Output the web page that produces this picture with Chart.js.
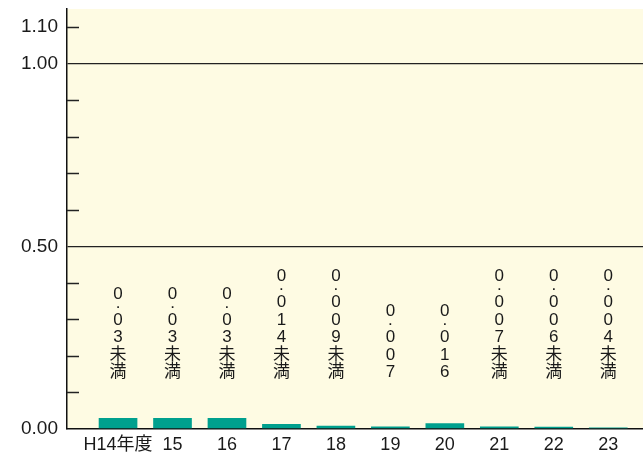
<!DOCTYPE html>
<html>
<head>
<meta charset="utf-8">
<script src="https://cdn.jsdelivr.net/npm/chart.js@4/dist/chart.umd.min.js"></script>
<style>
  body { margin: 0; background: #fff; }
</style>
</head>
<body>
<canvas id="chart" width="643" height="452"></canvas>
<script>
// data
const categories = ['H14年度', '15', '16', '17', '18', '19', '20', '21', '22', '23'];
const values = [0.03, 0.03, 0.03, 0.014, 0.009, 0.007, 0.016, 0.007, 0.006, 0.004];
const valueLabels = ['0.03未満', '0.03未満', '0.03未満', '0.014未満', '0.009未満', '0.007', '0.016', '0.007未満', '0.006未満', '0.004未満'];
const yTicks = [0, 0.1, 0.2, 0.3, 0.4, 0.5, 0.6, 0.7, 0.8, 0.9, 1.0, 1.1];
const yLabelled = [0, 0.5, 1.0, 1.1];
const yGridLines = [0.5, 1.0];
const labelBase = 0.142;

const FONT = '"Liberation Sans", "Noto Sans CJK JP", sans-serif';
const near = (list, v) => list.some(x => Math.abs(x - v) < 1e-6);

// cream plot background
const bgPlugin = {
    id: 'bg',
    beforeDraw(chart) {
        const a = chart.chartArea;
        const c = chart.ctx;
        c.save();
        c.fillStyle = '#fefbe3';
        c.fillRect(a.left, a.top, a.right - a.left, a.bottom - a.top);
        c.restore();
    }
};

// short tick marks pointing into the plot + vertical value labels
const marksPlugin = {
    id: 'marks',
    afterDraw(chart) {
        const c = chart.ctx;
        const y = chart.scales.y;
        const left = chart.chartArea.left;
        c.save();
        c.strokeStyle = '#222';
        c.lineWidth = 1.5;
        yTicks.forEach(v => {
            if (v === 0 || near(yGridLines, v)) return;
            const py = Math.round(y.getPixelForValue(v)) + 0.5;
            c.beginPath();
            c.moveTo(left, py);
            c.lineTo(left + 12, py);
            c.stroke();
        });

        c.fillStyle = '#1a1a1a';
        c.font = '17px ' + FONT;
        c.textAlign = 'center';
        c.textBaseline = 'alphabetic';
        const meta = chart.getDatasetMeta(0);
        meta.data.forEach((bar, i) => {
            const chars = Array.from(valueLabels[i]);
            let py = y.getPixelForValue(labelBase);
            for (let k = chars.length - 1; k >= 0; k--) {
                const ch = chars[k];
                if (ch === '.') {
                    c.fillText('.', bar.x, py - 4);
                } else {
                    c.fillText(ch, bar.x, py);
                }
                const next = chars[k - 1];
                py -= (ch === '.' || next === '.') ? 13 : 17.5;
            }
        });
        c.restore();
    }
};

const ctx = document.getElementById('chart').getContext('2d');
const chart = new Chart(ctx, {
    type: 'bar',
    data: {
        datasets: [{
            data: values.map((v, i) => ({ x: i, y: v })),
            backgroundColor: '#00a08e',
            borderWidth: 0,
            barPercentage: 0.71,
            categoryPercentage: 1
        }]
    },
    options: {
        responsive: false,
        animation: false,
        layout: { padding: { top: 9, right: 0, left: 0, bottom: 0 } },
        plugins: {
            legend: { display: false },
            tooltip: { enabled: false }
        },
        scales: {
            x: {
                type: 'linear',
                offset: false,
                min: -0.937,
                max: 9.638,
                afterBuildTicks: scale => {
                    scale.ticks = categories.map((_, i) => ({ value: i }));
                },
                afterFit: scale => {
                    scale.height = 23;
                    scale.paddingLeft = 0;
                    scale.paddingRight = 0;
                },
                grid: { display: false, drawTicks: false },
                border: { display: true, color: '#111', width: 1.5 },
                ticks: {
                    padding: 5,
                    autoSkip: false,
                    maxRotation: 0,
                    color: '#1a1a1a',
                    font: { family: FONT, size: 18 },
                    callback: v => categories[v] ?? ''
                }
            },
            y: {
                min: 0,
                max: 1.15,
                afterBuildTicks: scale => {
                    scale.ticks = yTicks.map(v => ({ value: v }));
                },
                afterFit: scale => {
                    scale.width = 67;
                    scale.paddingTop = 0;
                    scale.paddingBottom = 0;
                },
                grid: {
                    drawTicks: false,
                    color: c => near(yGridLines, c.tick.value) ? '#222' : 'rgba(0,0,0,0)',
                    lineWidth: 1.3
                },
                border: { display: true, color: '#111', width: 1.5 },
                ticks: {
                    padding: 9,
                    color: '#1a1a1a',
                    font: { family: FONT, size: 19 },
                    callback: v => near(yLabelled, v) ? v.toFixed(2) : ''
                }
            }
        }
    },
    plugins: [bgPlugin, marksPlugin]
});
</script>
</body>
</html>
